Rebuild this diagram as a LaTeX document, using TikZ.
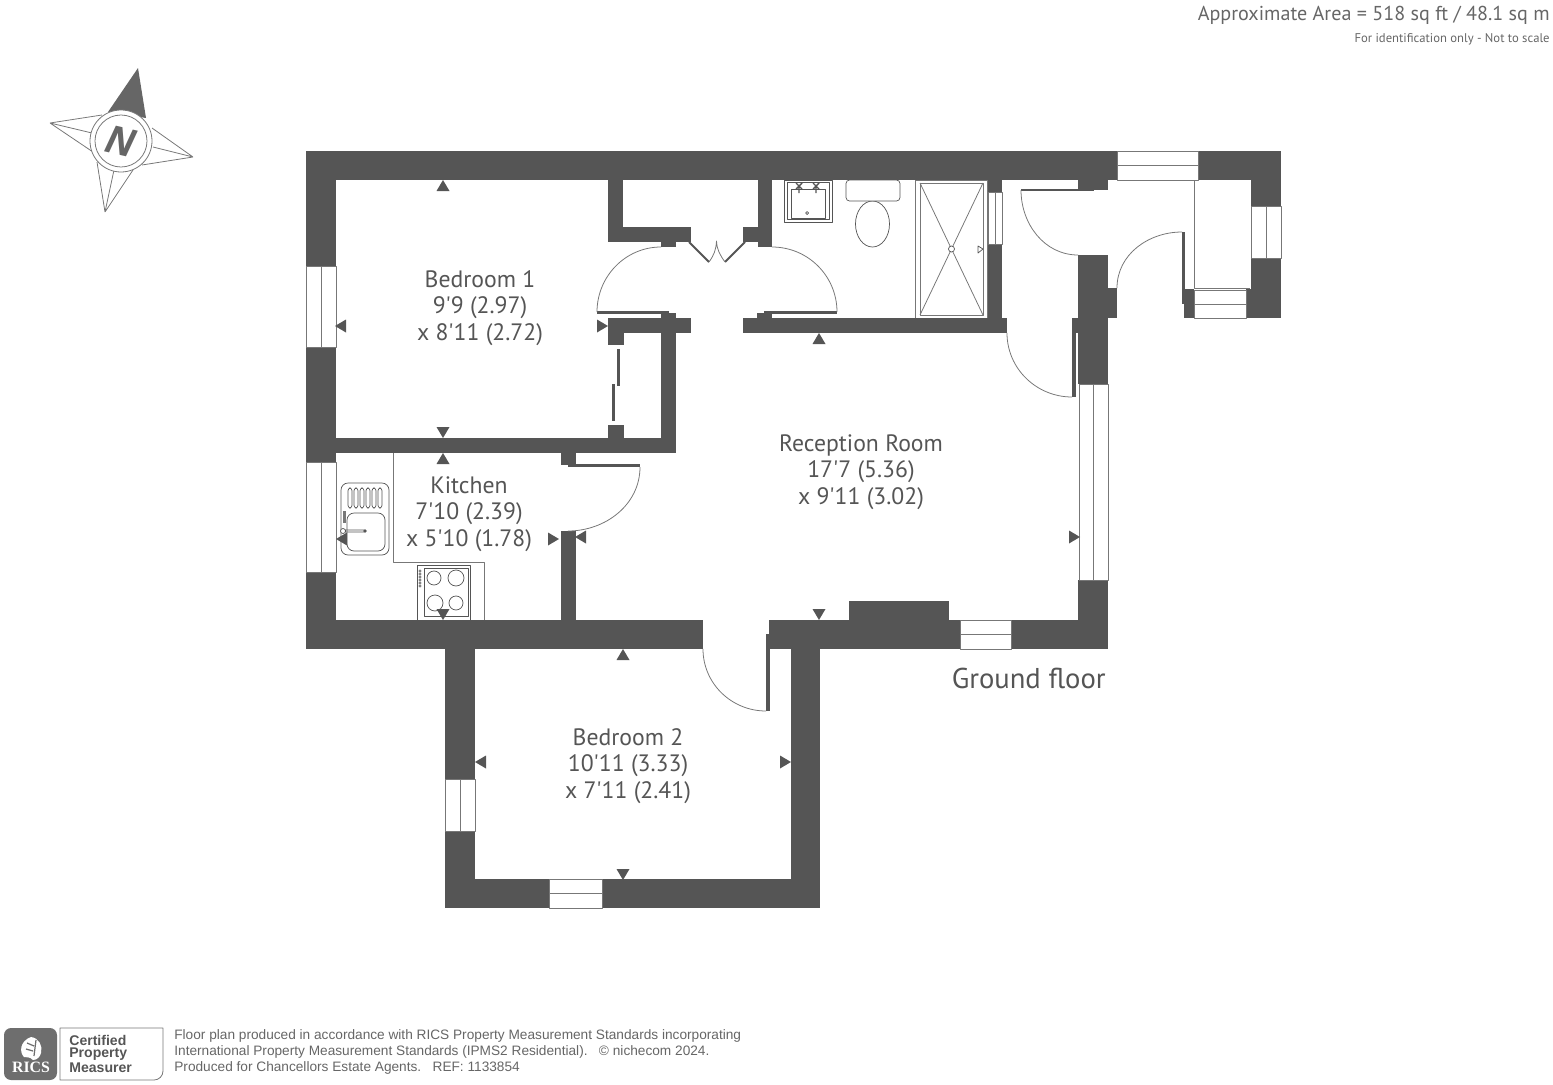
\documentclass[tikz,border=0pt]{standalone}
\usepackage{fontspec}
\setmainfont{PT Sans}[Ligatures=TeXOff]
\newfontfamily\footfont{Liberation Sans}
\newfontfamily\ricsfont{Liberation Serif}
\newfontfamily\northfont{Open Sans}
\definecolor{wallgrey}{HTML}{555555}
\definecolor{linegrey}{HTML}{777777}
\definecolor{textgrey}{HTML}{666666}
\tikzset{
	wall/.style={fill=wallgrey},
	thinline/.style={draw=linegrey,line width=0.45pt},
	fitting/.style={draw=wallgrey,line width=0.4pt,fill=white},
	leaf/.style={fill=wallgrey},
	dimtri/.style={fill=wallgrey},
	roomlabel/.style={text=wallgrey,font=\fontsize{13.5}{15}\selectfont,align=center,inner sep=0pt},
	certlabel/.style={text=wallgrey,font=\footfont\bfseries\fontsize{8}{9}\selectfont,anchor=west,inner sep=0pt},
	footlabel/.style={text=textgrey,font=\footfont\fontsize{7.78}{9}\selectfont,anchor=west,inner sep=0pt},
}
\begin{document}
\begin{tikzpicture}[x=0.02cm,y=-0.02cm,line join=round]
	\useasboundingbox (0,0) rectangle (1553,1085);
	\foreach \xa/\ya/\xb/\yb in {306/151/1117/180,1198/151/1281/180,306/180/336/266,306/347/336/462,306/572/336/649,
		336/438/676/453,661/311/669/333,669/313/676/333,661/333/676/438,608/318/691/333,608/333/624/345,608/425/624/438,
		608/180/623/242,623/227/691/242,661/242/676/247,758/180/772/247,743/227/758/242,
		743/318/1007/333,757/313/772/318,764/311/772/313,988/180/1002/192,988/244/1002/318,
		1078/180/1108/189,1094/189/1108/190,1078/255/1108/384,1108/288/1117/318,1072/318/1078/333,
		1184/289/1194/318,1246/289/1251/318,1251/180/1281/206,1251/258/1281/318,
		561/453/576/465,561/531/576/620,306/620/703/649,769/620/960/649,1011/620/1108/649,849/601/949/620,1078/580/1108/620,
		445/649/475/779,445/831/475/908,475/879/549/908,602/879/820/908,791/649/820/879}
	\fill[wall] (\xa,\ya) rectangle (\xb,\yb);
	\foreach \xa/\ya/\xb/\yb in {597/311/661/314,764/311/837/314,1021/189/1094/191,1072/325/1076/397,1182/232/1185/304,
		766/634/770/711,568/464/640/467,617/349/620/386,612/384/615/421}
	\fill[leaf] (\xa,\ya) rectangle (\xb,\yb);
	\foreach \xa/\xb/\ya/\yb in {306/336/266/347,306/336/462/572,1079/1108/384/580,445/475/779/831,988/1002/192/244,1251/1281/206/258}
	\draw[thinline] (\xa,\ya) rectangle (\xb,\yb) ({(\xa+\xb)/2},\ya)--({(\xa+\xb)/2},\yb);
	\foreach \xa/\xb/\ya/\yb in {1117/1198/151/180,960/1011/620/649,549/602/879/908,1194/1246/290/318}
	\draw[thinline] (\xa,\ya) rectangle (\xb,\yb) (\xa,{(\ya+\yb)/2})--(\xb,{(\ya+\yb)/2});
	\draw[thinline] (597,312) to[out=90,in=180] (661,247);
	\draw[thinline] (837,312) to[out=90,in=0] (772,247);
	\draw[thinline] (1021,190) to[out=-90,in=180] (1078,255);
	\draw[thinline] (1007,333) to[out=-90,in=180] (1072,397);
	\draw[thinline] (1117,288) to[out=90,in=180] (1182,232);
	\draw[thinline] (703,649) to[out=-90,in=180] (766,711);
	\draw[thinline] (640,467) to[out=-90,in=0] (568,531);
	\draw[wallgrey,line width=1.1pt] (689,242)--(709,262) (725,262)--(745,242);
	\draw[thinline] (709,262) .. controls (714,255) and (716,250) .. (716.5,241) .. controls (717,250) and (720,255) .. (725,262);
	\draw[thinline] (1194,180)--(1194,288)--(1250,288);
	\draw[thinline] (393,453)--(393,562)--(484,562)--(484,620);
	\draw[fitting,rounded corners=4] (341,483) rectangle (389,555);
	\foreach \x in {348,354,360,366,372,378}
	\draw[fitting,rounded corners=1.5] (\x,488) rectangle ++(4,20);
	\draw[fitting,rounded corners=4] (347,513) rectangle (385,551);
	\fill[wallgrey!80] (342.5,511) rectangle (346,523);
	\draw[fitting] (343,531) circle (2.5) (345.5,530)--(364,530) (345.5,532)--(364,532);
	\fill[wallgrey] (365,531) circle (1.8);
	\draw[fitting] (417,565) rectangle (470,620);
	\draw[fitting] (424,568) rectangle (468,616);
	\foreach \x/\y/\r in {434/578/7,456/578/8,435/603/8,456/603/7}
	\draw[fitting] (\x,\y) circle (\r);
	\foreach \y in {571,574,577,580,583,586}
	\draw[fitting,line width=0.3pt] (420,\y) circle (1.2);
	\draw[fitting] (784,180) rectangle (832,222);
	\draw[fitting] (787,182) rectangle (829,219);
	\draw[fitting] (791,189) rectangle (825,218);
	\foreach \x in {799,816}
	\draw[wallgrey,line width=0.8pt] (\x-3,183)--(\x+3,189) (\x+3,183)--(\x-3,189) (\x,186)--(\x,193);
	\draw[fitting] (807,213) circle (1.5);
	\draw[fitting] (872.5,224) ellipse (17 and 23);
	\draw[fitting,rounded corners=2] (846,180) rectangle (900,201);
	\draw[thinline] (915,180)--(915,318) (915,180)--(987,180) (987,180)--(987,318);
	\draw[thinline] (920,183) rectangle (983,315);
	\draw[thinline] (920,183)--(983,315) (983,183)--(920,315);
	\draw[fitting] (951.5,249) circle (3);
	\draw[fitting] (978,246)--(983,249)--(978,253)--cycle;
	\foreach \x/\y/\g in {443/186/90,341/326/180,602/326/0,443/432/-90,443/459/90,342/539/180,553/539/0,443/614/-90,
		819/339/90,581/537/180,1074/537/0,819/614/-90,623/655/90,481/762/180,785/762/0,623/874/-90}
	\fill[dimtri,shift={(\x,\y)},rotate=\g] (6,0)--(-5,6.5)--(-5,-6.5)--cycle;
	\node[roomlabel] (bedone) at (480,308) {Bedroom 1\\9'9 (2.97)\\x 8'11 (2.72)};
	\node[roomlabel] (kitchen) at (469,514) {Kitchen\\7'10 (2.39)\\x 5'10 (1.78)};
	\node[roomlabel] (reception) at (861,472) {Reception Room\\17'7 (5.36)\\x 9'11 (3.02)};
	\node[roomlabel] (bedtwo) at (628,766) {Bedroom 2\\10'11 (3.33)\\x 7'11 (2.41)};
	\node[roomlabel,font=\fontsize{16.3}{18}\selectfont,anchor=east] (floorname) at (1106,678) {Ground floor};
	\node[text=textgrey,font=\fontsize{11.45}{13}\selectfont,anchor=east,inner sep=0pt] (area) at (1550,15) {Approximate Area = 518 sq ft / 48.1 sq m};
	\node[text=textgrey,font=\fontsize{7.2}{9}\selectfont,anchor=east,inner sep=0pt] (scalenote) at (1550,39) {For identification only - Not to scale};
	\fill[wallgrey!90] (108,112)--(138,68)--(146,118)--cycle;
	\draw[thinline] (50,123)--(102,115) (50,123)--(92,133) (50,123)--(93,152);
	\draw[thinline] (193,157)--(152,128) (193,157)--(153,147) (193,157)--(142,165);
	\draw[thinline] (105,212)--(97,162) (105,212)--(114,170) (105,212)--(133,170);
	\draw[thinline,fill=white] (121,141) circle (31);
	\draw[thinline] (121,141) circle (26);
	\node[rotate=-13,text=textgrey,font=\northfont\bfseries\itshape\fontsize{22}{22}\selectfont,inner sep=0pt] (north) at (121,141) {N};
	\fill[wallgrey!85,rounded corners=4] (4,1080) -- (4,1028) -- (57,1028) -- (57,1080) -- cycle;
	\fill[white] (31,1037) .. controls (39,1038) and (43,1046) .. (41,1053) .. controls (40,1057) and (37,1060) .. (33,1060) .. controls (29,1056) and (27,1058) .. (24,1057) .. controls (19,1052) and (20,1041) .. (31,1037);
	\draw[wallgrey!85,line width=0.7pt] (27,1043)--(34,1046) (26,1049)--(33,1051) (36,1040)--(34,1056);
	\node[text=white,font=\ricsfont\bfseries\fontsize{9}{10}\selectfont,inner sep=0pt] (ricsname) at (31,1067) {RICS};
	\draw[thinline] (60,1028)--(163,1028)--(163,1071) to[out=-90,in=0] (154,1080)--(60,1080)--cycle;
	\node[certlabel] (certone) at (69,1040) {Certified};
	\node[certlabel] (certtwo) at (69,1054) {Property};
	\node[certlabel] (certthree) at (69,1068) {Measurer};
	\node[footlabel] (footone) at (174,1036) {Floor plan produced in accordance with RICS Property Measurement Standards incorporating};
	\node[footlabel] (foottwo) at (174,1052) {International Property Measurement Standards (IPMS2 Residential).\ \ \ © nichecom 2024.};
	\node[footlabel] (footthree) at (174,1068) {Produced for Chancellors Estate Agents.\ \ \ REF: 1133854};
\end{tikzpicture}
\end{document}
